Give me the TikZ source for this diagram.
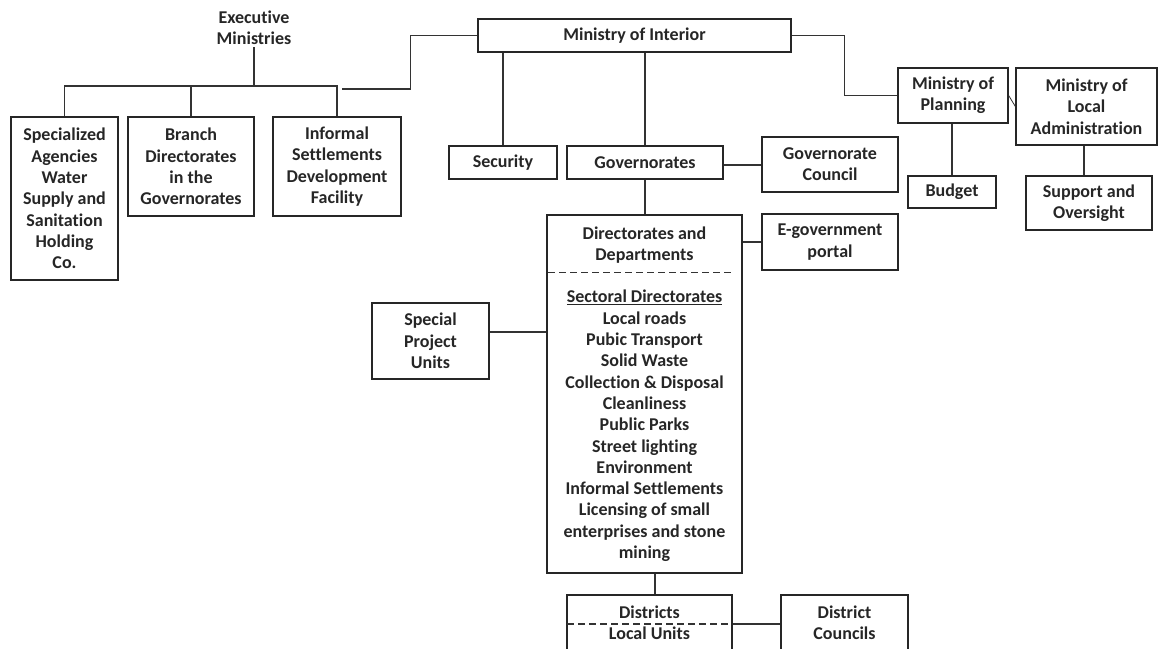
\documentclass[tikz,border=0pt]{standalone}
\usepackage{fontspec}
\setmainfont{Carlito}[Ligatures=NoCommon]
\usepackage{tikz}
\usetikzlibrary{positioning,calc}
\tikzset{
  org_box/.style={
    draw=black!85, rectangle, line width=1.3pt, fill=white,
    text centered, align=center, inner sep=2pt,
    font=\fontsize{18}{21.3}\selectfont\bfseries, text=black!85
  },
  org_lbl/.style={
    align=center, inner sep=2pt,
    font=\fontsize{18}{21.3}\selectfont\bfseries, text=black!85
  },
  org_line/.style={draw=black!80, line width=1.3pt},
  org_dash/.style={draw=black!80, line width=1.2pt, dash pattern=on 7pt off 4pt},
}

\begin{document}
\begin{tikzpicture}[x=1pt, y=-1pt]

\clip (0,0) rectangle (1158,648);
\fill[white] (0,0) rectangle (1158,648);

% Executive ministries branch
\node[org_lbl] (exec) at (254,28) {Executive\\Ministries};
\node[org_box, minimum width=107pt, minimum height=163pt] (spec)   at (64.5,198.5) {Specialized\\Agencies\\Water\\Supply and\\Sanitation\\Holding\\Co.};
\node[org_box, minimum width=126pt, minimum height=99pt]  (branch) at (191,166.5)  {Branch\\Directorates\\in the\\Governorates};
\node[org_box, minimum width=128pt, minimum height=99pt]  (infset) at (337,166.5)  {Informal\\Settlements\\Development\\Facility};

% Ministry of Interior branch
\node[org_box, minimum width=313pt, minimum height=33pt] (moi)      at (634.5,35.5) {Ministry of Interior};
\node[org_box, minimum width=108pt, minimum height=33pt] (security) at (503,162.5)  {Security};
\node[org_box, minimum width=156pt, minimum height=33pt] (gov)      at (645,162.5)  {Governorates};
\node[org_box, minimum width=136pt, minimum height=55pt] (govc)     at (830,164.5)  {Governorate\\Council};
\node[org_box, minimum width=195pt, minimum height=358pt] (dirs)    at (644.5,394)  {Directorates and\\Departments\\[21.3pt]\underline{Sectoral Directorates}\\Local roads\\Pubic Transport\\Solid Waste\\Collection \& Disposal\\Cleanliness\\Public Parks\\Street lighting\\Environment\\Informal Settlements\\Licensing of small\\enterprises and stone\\mining};
\node[org_box, minimum width=136pt, minimum height=56pt] (egov)     at (830,242)    {E-government\\portal};
\node[org_box, minimum width=117pt, minimum height=76pt] (special)  at (430.5,341)  {Special\\Project\\Units};
\node[org_box, minimum width=165pt, minimum height=55pt] (districts) at (649.5,622.5) {Districts\\Local Units};
\node[org_box, minimum width=127pt, minimum height=55pt] (dcouncil)  at (844.5,622.5) {District\\Councils};

% Planning and local administration
\node[org_box, minimum width=110pt, minimum height=55pt] (planning) at (953,95.5)    {Ministry of\\Planning};
\node[org_box, minimum width=141pt, minimum height=77pt] (localadm) at (1086.5,106.5) {Ministry of\\Local\\Administration};
\node[org_box, minimum width=88pt,  minimum height=32pt] (budget)   at (952,192)     {Budget};
\node[org_box, minimum width=126pt, minimum height=54pt] (support)  at (1089,203)    {Support and\\Oversight};

% Executive ministries tree
\coordinate (bar) at (254,86);
\coordinate (barend) at (342,89);
\draw[org_line] (exec.south) -- (bar);
\draw[org_line] (spec.north) |- (bar) -| (infset.north);
\draw[org_line] (branch.north) -- (branch.north |- bar);
\draw[org_line] (moi.west) -- ++(-67,0) |- (barend);

% Interior tree
\draw[org_line] (security.north) -- (security.north |- moi.south);
\draw[org_line] (gov.north) -- (gov.north |- moi.south);
\draw[org_line] (gov.east |- 0,165) -- (govc.west |- 0,165);
\draw[org_line] (gov.south) -- (gov.south |- dirs.north);
\draw[org_line] (egov.west) -- (egov.west -| dirs.east);
\draw[org_line] (special.east |- 0,332) -- (dirs.west |- 0,332);
\draw[org_line] (districts.north -| 655,0) -- (dirs.south -| 655,0);
\draw[org_line] (districts.east |- 0,624) -- (dcouncil.west |- 0,624);

% Dashed separators
\draw[org_dash] ($(dirs.north west)+(2,58)$) -- ($(dirs.north east)+(-10,58)$);
\draw[org_dash] ($(districts.west)+(1,1.5)$) -- ($(districts.east)+(-1,1.5)$);

% Planning tree
\draw[org_line] (moi.east) -- ++(53,0) |- (planning.west);
\draw[org_line, line width=0.8pt] (planning.east) -- (localadm.west);
\draw[org_line] (budget.north) -- (budget.north |- planning.south);
\draw[org_line] (support.north -| 1084,0) -- (localadm.south -| 1084,0);

\end{tikzpicture}
\end{document}
